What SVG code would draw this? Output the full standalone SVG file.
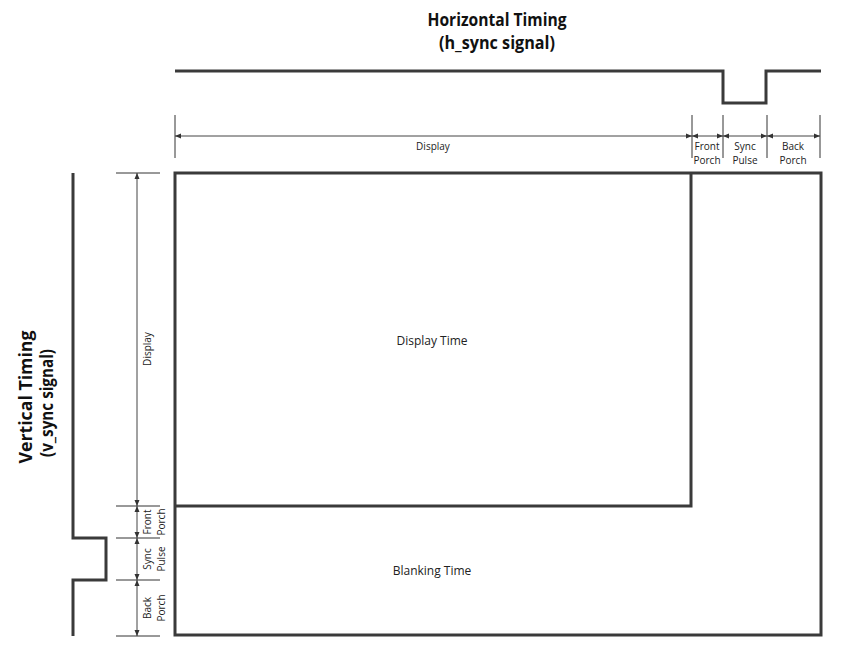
<svg xmlns="http://www.w3.org/2000/svg" width="848" height="658" viewBox="0 0 848 658">
<defs>
<marker id="ah" viewBox="0 0 6 6" refX="6" refY="3" markerWidth="6" markerHeight="6" markerUnits="userSpaceOnUse" orient="auto-start-reverse">
<path d="M0,0.5 L6,3 L0,5.5 z" fill="#333"/>
</marker>
</defs>
<style>
.sig{fill:none;stroke:#3a3a3a;stroke-width:3;stroke-linejoin:miter}
.box{fill:none;stroke:#3a3a3a;stroke-width:3}
.dim{fill:none;stroke:#444;stroke-width:1;marker-start:url(#ah);marker-end:url(#ah)}
.tick{stroke:#333;stroke-width:1}
.title{font-family:"Open Sans","Liberation Sans",sans-serif;font-weight:bold;font-size:18.5px;fill:#111;text-anchor:middle}
.lbl{font-family:"Open Sans","Liberation Sans",sans-serif;font-size:10px;fill:#222;text-anchor:middle}
.big{font-family:"Open Sans","Liberation Sans",sans-serif;font-size:12px;fill:#222;text-anchor:middle}
</style>
<rect width="848" height="658" fill="#fff"/>

<g id="h-title">
<text class="title" x="497" y="26" textLength="139" lengthAdjust="spacingAndGlyphs">Horizontal Timing</text>
<text class="title" x="497" y="49" textLength="116" lengthAdjust="spacingAndGlyphs">(h_sync signal)</text>
</g>
<g id="v-title">
<text class="title" transform="translate(32,397) rotate(-90)" x="0" y="0" textLength="133" lengthAdjust="spacingAndGlyphs">Vertical Timing</text>
<text class="title" transform="translate(53,403) rotate(-90)" x="0" y="0" textLength="108" lengthAdjust="spacingAndGlyphs">(v_sync signal)</text>
</g>

<g id="h-sync">
<path class="sig" d="M175,71 H723 V103 H766 V71 H821"/>
</g>
<g id="v-sync">
<path class="sig" d="M73,173 V538 H106 V580 H73 V636"/>
</g>

<g id="frame">
<rect class="box" x="175" y="173" width="646" height="462"/>
</g>
<g id="display-time">
<path class="box" d="M175,506 H691 V173"/>
<text class="big" x="432" y="345">Display Time</text>
</g>
<g id="blanking-time">
<text class="big" x="432" y="575">Blanking Time</text>
</g>

<g id="connectors">
<line class="tick" x1="175" y1="115" x2="175" y2="158"/>
<line class="tick" x1="692" y1="115" x2="692" y2="158"/>
<line class="tick" x1="723" y1="115" x2="723" y2="158"/>
<line class="tick" x1="767" y1="115" x2="767" y2="158"/>
<line class="tick" x1="820" y1="115" x2="820" y2="158"/>
<line class="dim" x1="175" y1="136" x2="692" y2="136"/>
<line class="dim" x1="692" y1="136" x2="723" y2="136"/>
<line class="dim" x1="723" y1="136" x2="767" y2="136"/>
<line class="dim" x1="767" y1="136" x2="820" y2="136"/>
<line class="tick" x1="116" y1="173" x2="160" y2="173"/>
<line class="tick" x1="116" y1="506" x2="160" y2="506" stroke="#888"/>
<line class="tick" x1="116" y1="538" x2="160" y2="538" stroke="#888"/>
<line class="tick" x1="116" y1="580" x2="160" y2="580"/>
<line class="tick" x1="116" y1="636" x2="160" y2="636"/>
<line class="dim" x1="137" y1="173" x2="137" y2="506"/>
<line class="dim" x1="137" y1="506" x2="137" y2="538"/>
<line class="dim" x1="137" y1="538" x2="137" y2="580"/>
<line class="dim" x1="137" y1="580" x2="137" y2="636"/>
</g>

<g id="h-labels">
<text class="lbl" x="433" y="150">Display</text>
<text class="lbl" x="707" y="150">Front</text>
<text class="lbl" x="707" y="164">Porch</text>
<text class="lbl" x="745" y="150">Sync</text>
<text class="lbl" x="745" y="164">Pulse</text>
<text class="lbl" x="793" y="150">Back</text>
<text class="lbl" x="793" y="164">Porch</text>
</g>
<g id="v-labels">
<text class="lbl" transform="translate(151,349) rotate(-90)">Display</text>
<text class="lbl" transform="translate(151,522) rotate(-90)">Front</text>
<text class="lbl" transform="translate(165,522) rotate(-90)">Porch</text>
<text class="lbl" transform="translate(151,559) rotate(-90)">Sync</text>
<text class="lbl" transform="translate(165,559) rotate(-90)">Pulse</text>
<text class="lbl" transform="translate(151,608) rotate(-90)">Back</text>
<text class="lbl" transform="translate(165,608) rotate(-90)">Porch</text>
</g>
</svg>
